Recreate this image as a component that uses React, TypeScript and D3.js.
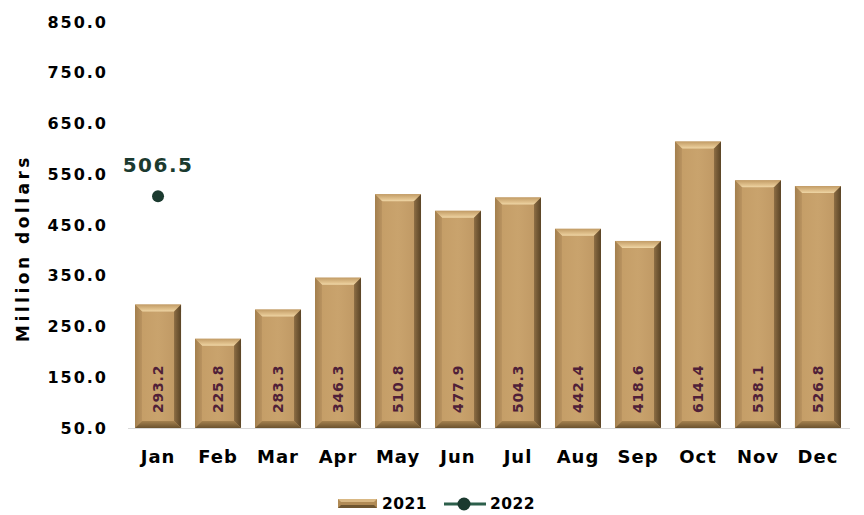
import React from "react";
import * as d3 from "d3";

const months = ["Jan","Feb","Mar","Apr","May","Jun","Jul","Aug","Sep","Oct","Nov","Dec"];
const values2021 = [293.2,225.8,283.3,346.3,510.8,477.9,504.3,442.4,418.6,614.4,538.1,526.8];
const values2022 = [506.5];
const yTicks = [50,150,250,350,450,550,650,750,850];

const W = 864, H = 515;
const FONT = "'DejaVu Sans', 'Open Sans', sans-serif";

export default function App() {
  const x = d3.scaleBand<string>().domain(months).range([128, 848]).paddingInner(0.233).paddingOuter(0.117);
  const y = d3.scaleLinear().domain([50, 850]).range([428, 22]);
  const bw = x.bandwidth();
  const b = 7;
  const fmt = d3.format(".1f");
  return (
    <svg width={W} height={H} style={{ position: "absolute", left: 0, top: 0, fontFamily: FONT }}>
      <defs>
        <linearGradient id="face" x1="0" x2="1" y1="0" y2="0">
          <stop offset="0" stopColor="#c39c65" />
          <stop offset="0.5" stopColor="#c9a36d" />
          <stop offset="1" stopColor="#bd9662" />
        </linearGradient>
        <linearGradient id="topb" x1="0" x2="0" y1="0" y2="1">
          <stop offset="0" stopColor="#c29c66" />
          <stop offset="0.7" stopColor="#e2c38f" />
          <stop offset="1" stopColor="#efd6a6" />
        </linearGradient>
        <linearGradient id="leftb" x1="0" x2="1" y1="0" y2="0">
          <stop offset="0" stopColor="#a37f4d" />
          <stop offset="1" stopColor="#b99360" />
        </linearGradient>
        <linearGradient id="rightb" x1="0" x2="1" y1="0" y2="0">
          <stop offset="0" stopColor="#8c6d44" />
          <stop offset="1" stopColor="#5a4426" />
        </linearGradient>
        <linearGradient id="botb" x1="0" x2="0" y1="0" y2="1">
          <stop offset="0" stopColor="#a58250" />
          <stop offset="1" stopColor="#6b522e" />
        </linearGradient>
      </defs>
      {yTicks.map(t => (
        <text key={t} x={108} y={y(t)} dy="0.35em" textAnchor="end" fontSize={16} fontWeight="bold" letterSpacing={2} fill="#000">{fmt(t)}</text>
      ))}
      <text transform={`translate(23,${248}) rotate(-90)`} textAnchor="middle" dy="0.35em" fontSize={17} fontWeight="bold" letterSpacing={3.5} fill="#000">Million dollars</text>
      <line x1={128} x2={850} y1={428.5} y2={428.5} stroke="#d9d9d9" strokeWidth={1} />
      {months.map((m, i) => {
        const x0 = x(m)!, x1 = x0 + bw;
        const y0 = y(values2021[i]), y1 = y(50);
        const pts = (a: number[][]) => a.map(p => p.join(",")).join(" ");
        return (
          <g key={m}>
            <rect x={x0} y={y0} width={bw} height={y1 - y0} fill="url(#face)" />
            <polygon points={pts([[x0, y0], [x1, y0], [x1 - b, y0 + b], [x0 + b, y0 + b]])} fill="url(#topb)" />
            <polygon points={pts([[x0, y0], [x0 + b, y0 + b], [x0 + b, y1 - b], [x0, y1]])} fill="url(#leftb)" />
            <polygon points={pts([[x1, y0], [x1, y1], [x1 - b, y1 - b], [x1 - b, y0 + b]])} fill="url(#rightb)" />
            <polygon points={pts([[x0, y1], [x1, y1], [x1 - b, y1 - b], [x0 + b, y1 - b]])} fill="url(#botb)" />
            <text transform={`translate(${x0 + bw / 2},${413}) rotate(-90)`} dy="0.35em" textAnchor="start" fontSize={14} fontWeight="bold" letterSpacing={0.8} fill="#4f1f38">{fmt(values2021[i])}</text>
            <text x={x0 + bw / 2} y={457} dy="0.35em" textAnchor="middle" fontSize={18} fontWeight="bold" letterSpacing={1} fill="#000">{m}</text>
          </g>
        );
      })}
      {values2022.map((v, i) => (
        <g key={i}>
          <circle cx={x(months[i])! + bw / 2} cy={y(v)} r={6} fill="#1b3a2f" />
          <text x={x(months[i])! + bw / 2} y={y(v) - 31} dy="0.35em" textAnchor="middle" fontSize={20} fontWeight="bold" letterSpacing={1.5} fill="#1b3a2f">{fmt(v)}</text>
        </g>
      ))}
      <g>
        <rect x={338} y={499} width={39} height={9} fill="#b08a55" />
        <polygon points="338,499 377,499 374,502 341,502" fill="#d9b884" />
        <polygon points="338,508 377,508 374,505 341,505" fill="#6e5530" />
        <text x={382} y={504} dy="0.35em" fontSize={15.5} fontWeight="bold" letterSpacing={0.5} fill="#000">2021</text>
        <line x1={444} x2={486} y1={504} y2={504} stroke="#2c5f4b" strokeWidth={3} />
        <circle cx={464} cy={504} r={6.5} fill="#1b3a2f" />
        <text x={490} y={504} dy="0.35em" fontSize={15.5} fontWeight="bold" letterSpacing={0.5} fill="#000">2022</text>
      </g>
    </svg>
  );
}
